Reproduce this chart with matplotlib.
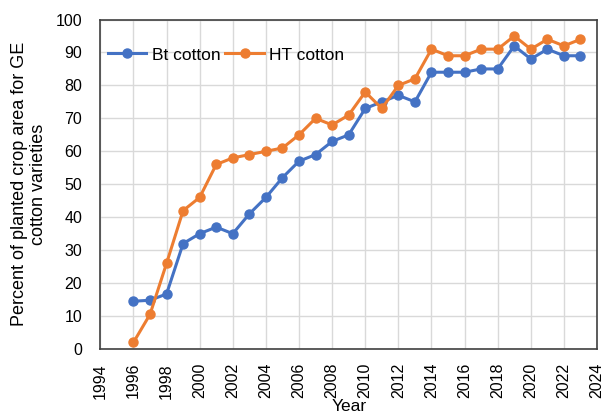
import matplotlib.pyplot as plt

plt.rcParams["font.family"] = ["Liberation Sans", "DejaVu Sans"]

years = list(range(1996, 2024))
bt_cotton = [14.5, 14.8, 16.7, 32, 35, 37, 35, 41, 46, 52, 57, 59, 63, 65,
             73, 75, 77, 75, 84, 84, 84, 85, 85, 92, 88, 91, 89, 89]
ht_cotton = [2, 10.5, 26, 42, 46, 56, 58, 59, 60, 61, 65, 70, 68, 71,
             78, 73, 80, 82, 91, 89, 89, 91, 91, 95, 91, 94, 92, 94]
x_ticks = list(range(1994, 2025, 2))

fig = plt.figure(figsize=(6.08, 4.15), dpi=100)
ax = fig.add_axes([0.165, 0.159, 0.817, 0.794])

ax.plot(years, bt_cotton, color="#4472C4", marker="o", markersize=6.5,
        linewidth=2.2, label="Bt cotton", zorder=3)
ax.plot(years, ht_cotton, color="#ED7D31", marker="o", markersize=6.5,
        linewidth=2.2, label="HT cotton", zorder=3)

ax.set_xlim(1994, 2024)
ax.set_ylim(0, 100)
ax.set_xticks(x_ticks)
ax.set_xticklabels([str(t) for t in x_ticks], rotation=90, fontsize=11.5)
ax.set_yticks(range(0, 101, 10))
ax.tick_params(axis="y", labelsize=11.5, pad=13)
ax.tick_params(axis="x", pad=10)
ax.tick_params(length=0)
ax.grid(True, color="#D9D9D9", linewidth=1)
ax.set_axisbelow(True)
for s in ax.spines.values():
    s.set_color("#404040")
    s.set_linewidth(1.2)

ax.set_xlabel("Year", fontsize=12.5, labelpad=0)
ax.set_ylabel("Percent of planted crop area for GE\ncotton varieties",
              fontsize=13, labelpad=6)

ax.legend(loc="upper left", bbox_to_anchor=(-0.005, 0.947), ncol=2,
          frameon=False, fontsize=12.5, handlelength=2.2, handletextpad=0.3,
          columnspacing=0.3, borderaxespad=0.2)

plt.savefig("out.png", dpi=100)
